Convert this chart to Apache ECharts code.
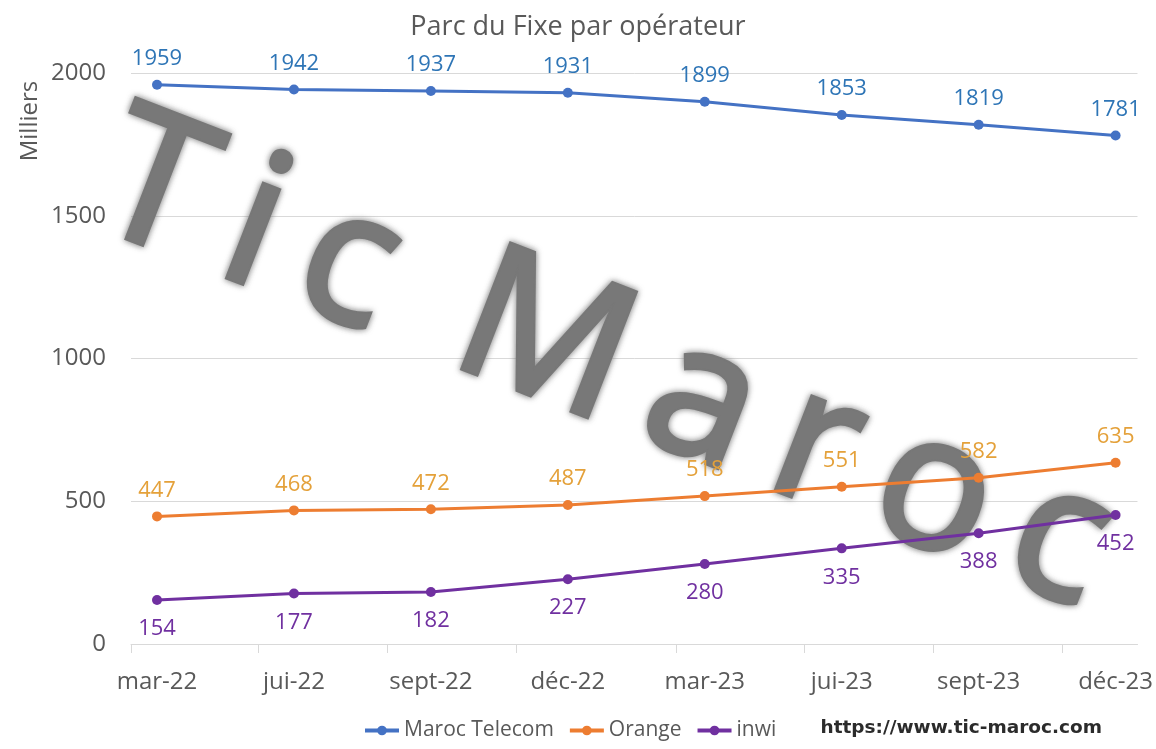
<!DOCTYPE html>
<html>
<head>
<meta charset="utf-8">
<script src="https://cdn.jsdelivr.net/npm/echarts@6/dist/echarts.min.js"></script>
<style>
  html, body { margin: 0; padding: 0; background: #fff; }
  #chart { width: 1156px; height: 749px; }
</style>
</head>
<body>
<div id="chart"></div>
<script>
var categories = ['mar-22', 'jui-22', 'sept-22', 'déc-22', 'mar-23', 'jui-23', 'sept-23', 'déc-23'];
var marocTelecom = [1959, 1942, 1937, 1931, 1899, 1853, 1819, 1781];
var orange = [447, 468, 472, 487, 518, 551, 582, 635];
var inwi = [154, 177, 182, 227, 280, 335, 388, 452];
var yTicks = [0, 500, 1000, 1500, 2000];
// tick marks of the x axis sit between the points, as in the source
var xTicks = [-0.19, 0.74, 1.68, 2.62, 3.79, 4.73, 5.67, 6.61];

var font = 'Open Sans';

function pairs(arr) {
  return arr.map(function (v, i) { return [i, v]; });
}

function lineSeries(name, data, lineColor, labelColor, pos, dist) {
  return {
    name: name,
    type: 'line',
    data: pairs(data),
    symbol: 'circle',
    symbolSize: 10,
    lineStyle: { width: 3, color: lineColor },
    itemStyle: { color: lineColor },
    label: {
      show: true,
      position: pos,
      distance: dist,
      color: labelColor,
      fontFamily: font,
      fontSize: 22,
      formatter: function (p) { return p.value[1]; }
    }
  };
}

var chart = echarts.init(document.getElementById('chart'));
chart.setOption({
  animation: false,
  backgroundColor: '#fff',
  title: {
    text: 'Parc du Fixe par opérateur',
    left: 'center',
    top: 9,
    textStyle: { fontFamily: font, fontSize: 27, fontWeight: 'normal', color: '#595959' }
  },
  legend: {
    left: 358,
    top: 715,
    itemWidth: 34,
    itemHeight: 12,
    itemGap: 14,
    lineStyle: { width: 4 },
    textStyle: { fontFamily: font, fontSize: 21, color: '#595959' },
    data: ['Maroc Telecom', 'Orange', 'inwi']
  },
  grid: { left: 131, right: 17, top: 73, bottom: 105 },
  xAxis: {
    type: 'value',
    min: -0.19,
    max: 7.16,
    axisLine: { show: true, lineStyle: { color: '#D9D9D9', width: 1 } },
    axisTick: { show: true, length: 9, customValues: xTicks, lineStyle: { color: '#D9D9D9' } },
    splitLine: { show: false },
    axisLabel: {
      customValues: categories.map(function (c, i) { return i; }),
      formatter: function (v) { return categories[Math.round(v)]; },
      margin: 26,
      fontFamily: font,
      fontSize: 24,
      color: '#595959'
    }
  },
  yAxis: {
    type: 'value',
    min: yTicks[0],
    max: yTicks[yTicks.length - 1],
    interval: 500,
    axisLine: { show: false },
    axisTick: { show: false },
    splitLine: { lineStyle: { color: '#D9D9D9', width: 1 } },
    axisLabel: {
      margin: 25,
      fontFamily: font,
      fontSize: 24,
      color: '#595959',
      formatter: function (v) { return String(v); }
    }
  },
  graphic: [
    {
      type: 'text',
      x: 30,
      y: 121,
      rotation: Math.PI / 2,
      style: {
        text: 'Milliers',
        fontFamily: font,
        fontSize: 24,
        fill: '#595959',
        textAlign: 'center',
        textVerticalAlign: 'middle'
      }
    },
    {
      type: 'text',
      right: 54,
      top: 719,
      style: {
        text: 'https://www.tic-maroc.com',
        fontFamily: 'DejaVu Sans',
        fontWeight: 'bold',
        fontSize: 18.5,
        fill: '#2b2b2b'
      }
    },
    {
      type: 'text',
      x: 603,
      y: 366,
      rotation: -0.37,
      silent: true,
      z: 1,
      style: {
        text: 'T\u2009i\u2009c\u2009 M\u2009a\u2009r\u2009o\u2009c',
        fontFamily: 'Noto Sans',
        fontSize: 188,
        fill: '#787878',
        stroke: '#787878',
        lineWidth: 4,
        textShadowColor: 'rgba(120,120,120,0.9)',
        textShadowBlur: 6,
        textAlign: 'center',
        textVerticalAlign: 'middle'
      }
    }
  ],
  series: [
    lineSeries('Maroc Telecom', marocTelecom, '#4472C4', '#2E75B6', 'top', 10),
    lineSeries('Orange', orange, '#ED7D31', '#E4A13A', 'top', 10),
    lineSeries('inwi', inwi, '#7030A0', '#7030A0', 'bottom', 13)
  ]
});
</script>
</body>
</html>
